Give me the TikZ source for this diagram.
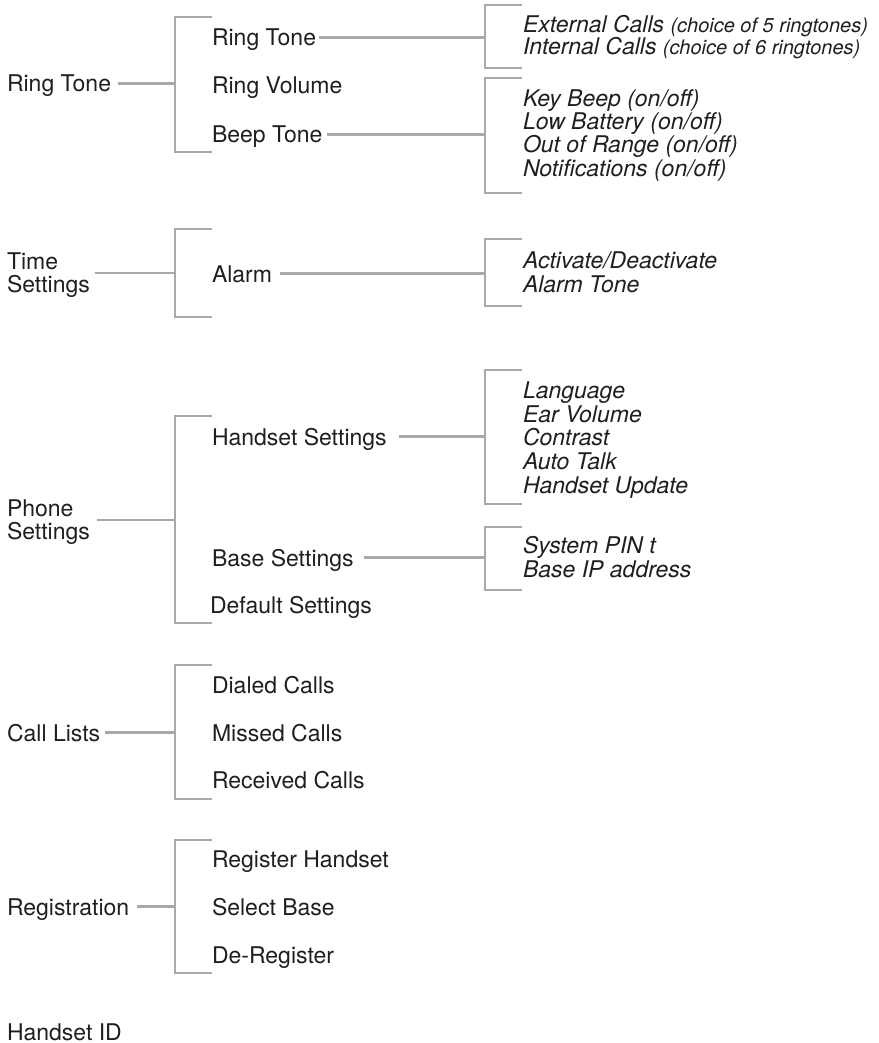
\documentclass[tikz,border=0pt]{standalone}
\usepackage{fontspec}
\setmainfont{TeX Gyre Heros}
\definecolor{lin}{HTML}{A7A9AC}
\definecolor{ink}{HTML}{1F1F1F}
\tikzset{
  lbl/.style={anchor=base west,inner sep=0pt,outer sep=0pt,text height=16.5pt,text depth=0pt,text=ink,font=\fontsize{23}{23}\selectfont},
  itm/.style={lbl,font=\fontsize{23}{23}\selectfont\itshape},
  two/.style={anchor=west,inner sep=0pt,outer sep=0pt,align=left,text=ink,font=\fontsize{23}{23}\selectfont},
  conn/.style={draw=lin,line width=2.7pt},
}
\newcommand{\parenpart}[1]{{\fontsize{20}{20}\selectfont #1}}
\begin{document}
\begin{tikzpicture}[x=1pt,y=-1pt]
\useasboundingbox[fill=white] (0,0) rectangle (878,1043);

% level 1
\node[lbl] (l1) at (7,92) {Ring Tone};
\node[two] (l2) at (7,273) {Time\\\smash{Settings}};
\node[two] (l3) at (7,520) {Phone\\\smash{Settings}};
\node[lbl] (l4) at (7,741) {Call Lists};
\node[lbl] (l5) at (7,915) {Registration};
\node[lbl] (l6) at (7,1040) {Handset ID};

% level 2
\node[lbl] (a1) at (212,46) {Ring Tone};
\node[lbl] (a2) at (212,94) {Ring Volume};
\node[lbl] (a3) at (212,143) {Beep Tone};
\node[lbl] (b1) at (212,282) {Alarm};
\node[lbl] (c1) at (212,445) {Handset Settings};
\node[lbl] (c2) at (212,566) {Base Settings};
\node[lbl] (c3) at (210,613) {Default Settings};
\node[lbl] (d1) at (212,693) {Dialed Calls};
\node[lbl] (d2) at (212,741) {Missed Calls};
\node[lbl] (d3) at (212,788) {Received Calls};
\node[lbl] (e1) at (212,867) {Register Handset};
\node[lbl] (e2) at (212,915) {Select Base};
\node[lbl] (e3) at (212,963) {De-Register};

% level 3
\node[itm] (f1) at (523,33) {External Calls \parenpart{(choice of 5 ringtones)}};
\node[itm] (f2) at (523,55) {Internal Calls \parenpart{(choice of 6 ringtones)}};
\node[itm] (g1) at (523,107) {Key Beep (on/off)};
\node[itm] (g2) at (523,130) {Low Battery (on/off)};
\node[itm] (g3) at (523,153) {Out of Range (on/off)};
\node[itm] (g4) at (523,177) {Notifications (on/off)};
\node[itm] (h1) at (523,268) {Activate/Deactivate};
\node[itm] (h2) at (523,292) {Alarm Tone};
\node[itm] (i1) at (523,398) {Language};
\node[itm] (i2) at (523,422) {Ear Volume};
\node[itm] (i3) at (523,445) {Contrast};
\node[itm] (i4) at (523,469) {Auto Talk};
\node[itm] (i5) at (523,493) {Handset Update};
\node[itm] (j1) at (523,553) {System PIN t};
\node[itm] (j2) at (523,577) {Base IP address};

% brackets
\draw[conn] (212,17) -| (175,152) -- (212,152);
\draw[conn] (522,5) -| (485,68) -- (522,68);
\draw[conn] (522,78) -| (485,193) -- (522,193);
\draw[conn] (212,229) -| (175,317) -- (212,317);
\draw[conn] (522,239) -| (485,306) -- (522,306);
\draw[conn] (212,416) -| (175,623) -- (212,623);
\draw[conn] (522,370) -| (485,504) -- (522,504);
\draw[conn] (522,527) -| (485,590) -- (522,590);
\draw[conn] (212,665) -| (175,799) -- (212,799);
\draw[conn] (212,840) -| (175,973) -- (212,973);

% bracket joints
\coordinate (k1) at (175,84);
\coordinate (k2) at (485,37);
\coordinate (k3) at (485,135);
\coordinate (k4) at (175,273);
\coordinate (k5) at (485,273);
\coordinate (k6) at (175,520);
\coordinate (k7) at (485,437);
\coordinate (k8) at (485,558);
\coordinate (k9) at (175,732);
\coordinate (k10) at (175,907);

% connectors
\draw[conn] ([xshift=7pt]l1.east) -- (l1.east -| k1);
\draw[conn] ([xshift=3pt]a1.east) -- (a1.east -| k2);
\draw[conn] ([xshift=5pt]a3.east) -- (a3.east -| k3);
\draw[conn] ([xshift=5pt]l2.east) -- (l2.east -| k4);
\draw[conn] ([xshift=8pt]b1.east) -- (b1.east -| k5);
\draw[conn] ([xshift=7pt]l3.east) -- (l3.east -| k6);
\draw[conn] ([xshift=12pt]c1.east) -- (c1.east -| k7);
\draw[conn] ([xshift=10pt]c2.east) -- (c2.east -| k8);
\draw[conn] ([xshift=5pt]l4.east) -- (l4.east -| k9);
\draw[conn] ([xshift=8pt]l5.east) -- (l5.east -| k10);
\end{tikzpicture}
\end{document}
